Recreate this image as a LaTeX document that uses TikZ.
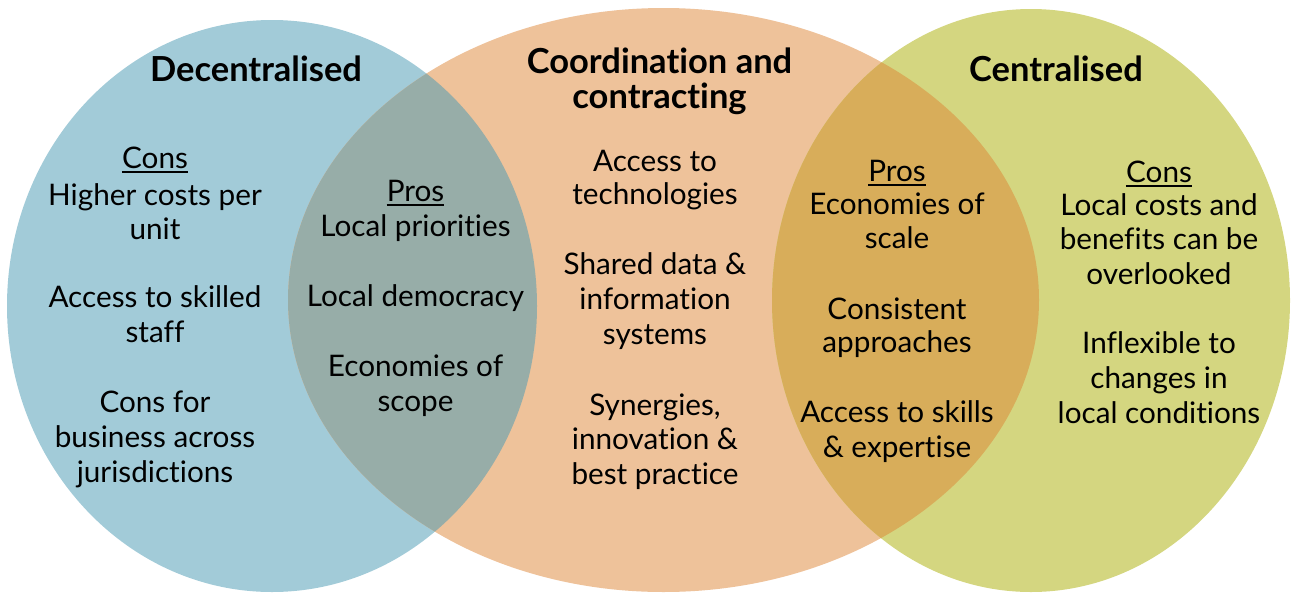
\documentclass[tikz,border=0pt]{standalone}
\usepackage{fontspec}
\setmainfont{Lato}[Ligatures={NoCommon,NoDiscretionary,NoContextual}]
\definecolor{cblue}{HTML}{A2CBD8}
\definecolor{corange}{HTML}{EEC29A}
\definecolor{cgreen}{HTML}{D4D680}
\definecolor{cgrey}{HTML}{97ADA8}
\definecolor{cgold}{HTML}{D8AD5A}
\begin{document}
\begin{tikzpicture}[x=1pt,y=-1pt,
  body/.style={anchor=base,inner sep=0pt,text=black,font=\fontsize{29.7}{34}\selectfont},
  ttl/.style={anchor=base,inner sep=0pt,text=black,font=\fontsize{34.5}{38}\selectfont\bfseries},
  uline/.style={line width=1.7pt,black}]
\useasboundingbox (0,0) rectangle (1291,592);
\clip (0,0) rectangle (1291,592);
% ellipses
\fill[cblue] (272,306) ellipse [x radius=265pt, y radius=286pt];
\fill[corange] (663.5,300) ellipse [x radius=375.5pt, y radius=292pt];
\fill[cgreen] (1031,300.5) ellipse [x radius=259pt, y radius=291.5pt];
\begin{scope}
  \clip (663.5,300) ellipse [x radius=375.5pt, y radius=292pt];
  \fill[cgrey] (272,306) ellipse [x radius=265pt, y radius=286pt];
  \fill[cgold] (1031,300.5) ellipse [x radius=259pt, y radius=291.5pt];
\end{scope}
% titles
\node[ttl] (tdec) at (256,81) {Decentralised};
\node[ttl] (tco1) at (659.5,73) {Coordination and};
\node[ttl] (tco2) at (659.5,108) {contracting};
\node[ttl] (tcen) at (1056,81) {Centralised};
% left cons
\node[body] (lcons) at (155,168) {Cons};
\draw[uline] ([yshift=-4pt]lcons.base west) -- ([yshift=-4pt]lcons.base east);
\foreach \yy/\lbl [count=\i] in {205/Higher costs per,239/unit,307/Access to skilled,342/staff,412/Cons for,447/business across,482/jurisdictions}
  \node[body] (L\i) at (155,\yy) {\lbl};
% grey pros
\node[body] (gpros) at (415.5,201) {Pros};
\draw[uline] ([yshift=-4pt]gpros.base west) -- ([yshift=-4pt]gpros.base east);
\foreach \yy/\lbl [count=\i] in {236/Local priorities,306/Local democracy,376/Economies of,411/scope}
  \node[body] (G\i) at (415.5,\yy) {\lbl};
% middle
\foreach \yy/\lbl [count=\i] in {171/Access to,204/technologies,274/Shared data \&,309/information,344/systems,415/{Synergies,},449/innovation \&,484/best practice}
  \node[body] (M\i) at (655,\yy) {\lbl};
% gold pros
\node[body] (opros) at (897,181) {Pros};
\draw[uline] ([yshift=-4pt]opros.base west) -- ([yshift=-4pt]opros.base east);
\foreach \yy/\lbl [count=\i] in {214/Economies of,248/scale,319/Consistent,352/approaches,422/Access to skills,457/\& expertise}
  \node[body] (O\i) at (897,\yy) {\lbl};
% right cons
\node[body] (rcons) at (1159,182) {Cons};
\draw[uline] ([yshift=-4pt]rcons.base west) -- ([yshift=-4pt]rcons.base east);
\foreach \yy/\lbl [count=\i] in {215/Local costs and,249/benefits can be,284/overlooked,353/Inflexible to,388/changes in,423/local conditions}
  \node[body] (R\i) at (1159,\yy) {\lbl};
\end{tikzpicture}
\end{document}
